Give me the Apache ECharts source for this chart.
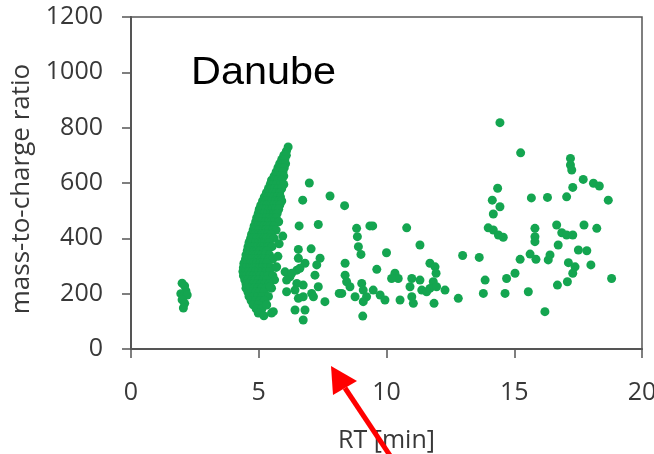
<!DOCTYPE html>
<html>
<head>
<meta charset="utf-8">
<script src="https://cdn.jsdelivr.net/npm/echarts@6/dist/echarts.min.js"></script>
<style>html,body{margin:0;padding:0;background:#fff}#c{width:654px;height:454px}</style>
</head>
<body>
<div id="c"></div>
<script>
// ---- data ----
const xTicks = [0, 5, 10, 15, 20];
const yTicks = [0, 200, 400, 600, 800, 1000, 1200];
const chartLabel = 'Danube';
const xName = 'RT [min]';
const yName = 'mass-to-charge ratio';

// early group near RT 2
const cluster2 = [[2.0,238],[2.1,228],[2.15,210],[1.95,200],[2.05,190],[2.2,195],[2.0,178],[2.1,165],[2.05,148]];

// dense band RT 4.4-6.2 : each m/z row with its RT values
const bandMz = [730,715,700,685,670,655,640,625,610,595,580,565,550,535,520,505,490,475,460,445,430,415,400,385,370,355,340,325,310,295,280,265,250,235,220,205,190,175,160,145,130,120];
const bandRt = [
  [6.15],[6.08],[5.98,6.08],[5.9,6.02],[5.82,5.95,6.05],[5.75,5.88,6.0],[5.68,5.8,5.95],
  [5.6,5.72,5.85,5.98],[5.5,5.62,5.75,5.9],[5.45,5.58,5.7,5.85,5.98],[5.38,5.5,5.62,5.75,5.9],
  [5.3,5.42,5.55,5.68,5.82],[5.22,5.35,5.48,5.6,5.72,5.85],[5.15,5.28,5.4,5.52,5.65,5.78,5.9],
  [5.08,5.2,5.32,5.45,5.58,5.7,5.82],[5.02,5.15,5.28,5.4,5.52,5.65,5.78],[4.98,5.1,5.22,5.35,5.48,5.6,5.72],
  [4.92,5.05,5.18,5.3,5.42,5.55,5.68],[4.88,5.0,5.12,5.25,5.38,5.5,5.62,5.78],[4.82,4.95,5.08,5.2,5.32,5.45,5.58],
  [4.78,4.9,5.02,5.15,5.28,5.4,5.55,5.68],[4.72,4.85,4.98,5.1,5.22,5.35,5.48],[4.68,4.8,4.92,5.05,5.18,5.3,5.45,5.6],
  [4.62,4.75,4.88,5.0,5.12,5.25,5.4],[4.58,4.7,4.82,4.95,5.08,5.2,5.35,5.52],[4.55,4.68,4.8,4.92,5.05,5.18,5.32],
  [4.5,4.62,4.75,4.88,5.0,5.12,5.25,5.42],[4.48,4.6,4.72,4.85,4.98,5.1,5.22,5.38,5.55],
  [4.42,4.55,4.68,4.8,4.92,5.05,5.18,5.32],[4.4,4.52,4.65,4.78,4.9,5.02,5.15,5.3,5.48,5.68],
  [4.38,4.5,4.62,4.75,4.88,5.0,5.12,5.28,5.42],[4.4,4.52,4.65,4.78,4.92,5.05,5.2,5.35,5.55],
  [4.45,4.58,4.72,4.85,5.0,5.15,5.3,5.62],[4.5,4.62,4.78,4.92,5.08,5.22,5.4],
  [4.5,4.65,4.8,4.95,5.1,5.28,5.5],[4.58,4.72,4.88,5.02,5.2],[4.62,4.8,4.95,5.12,5.38],
  [4.7,4.88,5.05,5.22],[4.78,4.98,5.3],[4.9,5.12],[4.98,5.5],[5.2]
];

// scattered points RT 5.3-8.2
const scatterEarly = [[5.94,408],[6.98,600],[6.72,538],[7.79,553],[6.58,445],[7.33,450],[6.55,360],[7.05,362],
  [6.55,328],[7.4,328],[7.27,304],[6.81,310],[6.49,285],[7.2,267],[6.22,261],[6.03,279],[6.29,274],[6.61,292],
  [6.74,231],[6.49,237],[7.33,225],[7.07,201],[7.14,189],[6.74,189],[6.42,213],[7.59,171],[6.55,183],[6.81,141],
  [6.42,141],[6.74,105],[5.57,135],[5.31,159],[6.09,249],[5.7,297],[6.09,207],[5.44,225],[8.15,201],[5.8,380],[5.75,335]];

// scattered points RT 8-19
const scatterLate = [[8.36,518],[8.83,436],[9.35,445],[9.46,445],[8.86,406],[8.9,370],[9.0,342],[10.79,438],
  [11.31,376],[10.0,348],[8.38,310],[9.62,288],[8.38,267],[8.44,243],[8.57,225],[8.25,201],[8.77,189],[9.03,237],
  [9.09,213],[9.22,189],[9.09,171],[9.48,213],[9.75,195],[9.94,177],[9.07,119],[10.33,274],[10.46,255],[10.2,255],
  [10.53,177],[10.99,255],[10.92,225],[10.99,189],[11.05,165],[11.31,249],[11.38,213],[11.7,310],[11.9,297],
  [11.94,274],[11.83,243],[11.7,219],[11.57,207],[11.96,225],[12.29,213],[11.86,165],[12.81,183],[12.98,338],
  [13.63,331],[13.86,249],[13.79,201],[14.64,201],[14.7,255],[15.03,274],[15.23,324],[15.62,343],[15.85,324],
  [15.55,207],[16.2,135],[14.44,818],[15.25,709],[17.2,689],[17.2,665],[17.25,647],[17.7,613],[18.1,599],
  [18.33,589],[18.68,538],[17.29,584],[17.05,550],[16.3,548],[15.67,546],[14.35,581],[14.14,538],[14.44,514],
  [14.18,488],[13.98,438],[14.18,430],[14.38,412],[14.57,404],[15.81,436],[15.81,406],[15.81,388],[16.33,322],
  [16.4,340],[16.66,448],[16.72,376],[16.86,420],[17.05,412],[17.29,412],[17.73,448],[18.23,436],[17.51,358],
  [17.84,355],[17.12,312],[17.38,297],[17.29,274],[17.08,243],[16.69,231],[18.0,304],[18.81,255]];

// ---- build ----
const bandPts = [];
bandMz.forEach((m, i) => bandRt[i].forEach(r => bandPts.push([r, m])));
const allPts = cluster2.concat(bandPts, scatterEarly, scatterLate);

const axisColor = '#555';
const textColor = '#383838';
const tickFont = {fontFamily: 'Open Sans', fontSize: 25, color: textColor};

const chart = echarts.init(document.getElementById('c'), null, {renderer: 'canvas'});
chart.setOption({
  animation: false,
  backgroundColor: '#fff',
  grid: {left: 131, right: 12, top: 17, bottom: 105, show: true, borderColor: axisColor, borderWidth: 1.5,
         backgroundColor: 'transparent', outerBoundsMode: 'none', containLabel: false},
  xAxis: {
    type: 'value', min: xTicks[0], max: xTicks[xTicks.length - 1], interval: 5,
    name: xName, nameLocation: 'middle', nameGap: 79,
    nameTextStyle: {fontFamily: 'Open Sans', fontSize: 25, color: textColor},
    axisLine: {show: true, lineStyle: {color: axisColor, width: 2}},
    axisTick: {show: true, inside: false, length: 9, lineStyle: {color: axisColor, width: 1.5}},
    axisLabel: Object.assign({margin: 31, formatter: v => String(v)}, tickFont),
    splitLine: {show: false}
  },
  yAxis: {
    type: 'value', min: yTicks[0], max: yTicks[yTicks.length - 1], interval: 200,
    name: yName, nameLocation: 'middle', nameGap: 90,
    nameTextStyle: {fontFamily: 'Open Sans', fontSize: 26, color: textColor, padding: [0, 12, 0, 0]},
    axisLine: {show: true, lineStyle: {color: axisColor, width: 2}},
    axisTick: {show: true, inside: false, length: 9, lineStyle: {color: axisColor, width: 1.5}},
    axisLabel: Object.assign({margin: 28, formatter: v => String(v)}, tickFont),
    splitLine: {show: false}
  },
  series: [{
    type: 'scatter', data: allPts, symbol: 'circle', symbolSize: 9,
    itemStyle: {color: '#14a550', opacity: 1}
  }],
  graphic: [
    {type: 'text', x: 191, y: 55, scaleX: 1.09, style: {text: chartLabel, font: '38px "Liberation Sans"', fill: '#000', verticalAlign: 'top'}, z: 100},
    {type: 'line', shape: {x1: 345, y1: 388, x2: 393, y2: 460}, style: {stroke: '#ff0000', lineWidth: 5}, z: 100},
    {type: 'polygon', shape: {points: [[331, 366], [333, 395], [357, 381]]}, style: {fill: '#ff0000'}, z: 100}
  ]
});
</script>
</body>
</html>
